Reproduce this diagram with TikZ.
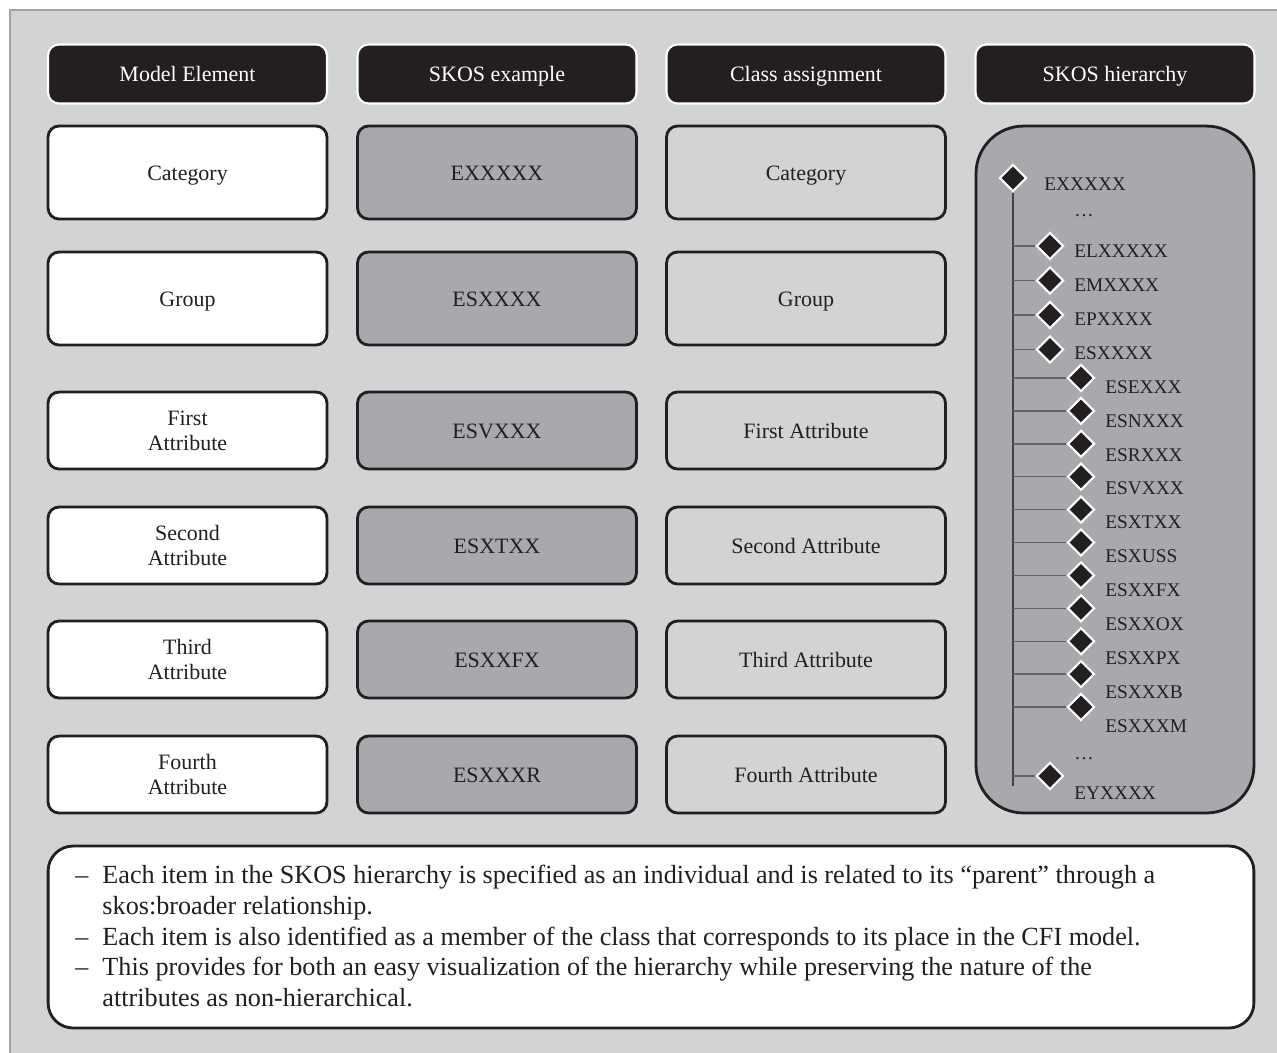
\documentclass[tikz,border=0pt]{standalone}
\usepackage{fontspec}
\setmainfont{Liberation Serif}
\usetikzlibrary{shapes.geometric,positioning}
\definecolor{bggray}{HTML}{D1D3D4}
\definecolor{midgray}{HTML}{A7A9AC}
\definecolor{inkblack}{HTML}{231F20}
\definecolor{framegray}{HTML}{A3A3A3}

\tikzset{
  box/.style={rounded corners=0.22cm, minimum width=5.58cm, line width=1.6pt,
    draw=inkblack, text=inkblack, font=\fontsize{12.5}{14.2}\selectfont,
    align=center, inner sep=0pt},
  one/.style={text height=0.9em, text depth=0em},
  head/.style={box, one, fill=inkblack, draw=white, line width=1.2pt, text=white,
    minimum height=1.18cm},
  elem/.style={box, fill=white},
  skos/.style={box, one, fill=midgray},
  cls/.style={box, one, fill=bggray},
  tall/.style={one, minimum height=1.86cm},
  short/.style={minimum height=1.54cm},
  panel/.style={draw=inkblack, fill=midgray, line width=1.6pt, rounded corners=0.95cm,
    minimum width=5.56cm, minimum height=13.74cm, inner sep=0pt},
  note/.style={draw=inkblack, fill=white, line width=1.6pt, rounded corners=0.5cm,
    minimum width=24.12cm, minimum height=3.64cm, inner sep=0pt},
  dia/.style={diamond, fill=inkblack, draw=white, line width=1.2pt, inner sep=0pt,
    minimum size=0.54cm},
  leaf/.style={anchor=west, inner sep=0pt, text=inkblack,
    font=\fontsize{11}{13}\selectfont},
  trunk/.style={draw=inkblack!85, line width=1pt},
  twig/.style={draw=inkblack!70, line width=0.8pt},
}

\begin{document}
\begin{tikzpicture}[x=0.02cm,y=-0.02cm]
\useasboundingbox (0,0) rectangle (1277,1052);

% Background panel
\fill[bggray] (10,10) rectangle (1290,1062);
\draw[framegray,line width=1.4pt] (10,1062) -- (10,10) -- (1290,10);

% Column headers
\node[head] (hmodel) at (187.5,74) {Model Element};
\node[head] (hskos)  at (497,74)   {SKOS example};
\node[head] (hclass) at (806,74)   {Class assignment};
\node[head] (htree)  at (1115,74)  {SKOS hierarchy};

% Rows: model element, SKOS example, class assignment
\foreach \y/\h/\me/\ex/\cl [count=\r] in {
    172.5/tall/Category/EXXXXX/Category,
    298.5/tall/Group/ESXXXX/Group,
    430.5/short/{First\\Attribute}/ESVXXX/First Attribute,
    545.5/short/{Second\\Attribute}/ESXTXX/Second Attribute,
    659.5/short/{Third\\Attribute}/ESXXFX/Third Attribute,
    774.5/short/{Fourth\\Attribute}/ESXXXR/Fourth Attribute} {
  \node[elem,\h] (me\r) at (187.5,\y) {\me};
  \node[skos,\h] (ex\r) at (497,\y)   {\ex};
  \node[cls,\h]  (cl\r) at (806,\y)   {\cl};
}

% SKOS hierarchy
\node[panel] (tree) at (1115,469.5) {};
\coordinate (trunkend) at (1013,786);
\node[dia] (root) at (1013,178) {};
\draw[trunk] (root.south) -- (trunkend);
\node[leaf] (rootlbl) at (1044,184) {EXXXXX};
\node[leaf] (dotsa) at (1074,216) {\dots};

% first level
\foreach \lbl [count=\i] in {ELXXXXX,EMXXXX,EPXXXX,ESXXXX} {
  \node[dia] (a\i) at (1050,{246+34.5*(\i-1)}) {};
  \draw[twig] (trunkend |- a\i) -- (a\i);
  \node[leaf] (lbla\i) at (1074,{251+34*(\i-1)}) {\lbl};
}

% second level, below ESXXXX
\foreach \lbl [count=\i] in {ESEXXX,ESNXXX,ESRXXX,ESVXXX,ESXTXX,ESXUSS,
                             ESXXFX,ESXXOX,ESXXPX,ESXXXB,ESXXXM} {
  \node[dia] (s\i) at (1081,{378+32.9*(\i-1)}) {};
  \draw[twig] (trunkend |- s\i) -- (s\i);
  \node[leaf] (lbls\i) at (1105,{387+33.9*(\i-1)}) {\lbl};
}

% last entry
\node[dia] (ey) at (1050,776) {};
\draw[twig] (trunkend |- ey) -- (ey);
\node[leaf] (dotsb) at (1074,759) {\dots};
\node[leaf] (eylbl) at (1074,793) {EYXXXX};

% Notes
\node[note] (notes) at (651,937) {};
\node[anchor=west,inner sep=0pt,text=inkblack,font=\fontsize{14.9}{17.4}\selectfont]
  (notetext) at (75,939) {%
  \begin{tabular}{@{}l@{\hspace{8pt}}l@{}}
  -- & Each item in the SKOS hierarchy is specified as an individual and is related to its “parent” through a\\
     & skos:broader relationship.\\
  -- & Each item is also identified as a member of the class that corresponds to its place in the CFI model.\\
  -- & This provides for both an easy visualization of the hierarchy while preserving the nature of the\\
     & attributes as non-hierarchical.
  \end{tabular}};
\end{tikzpicture}
\end{document}
